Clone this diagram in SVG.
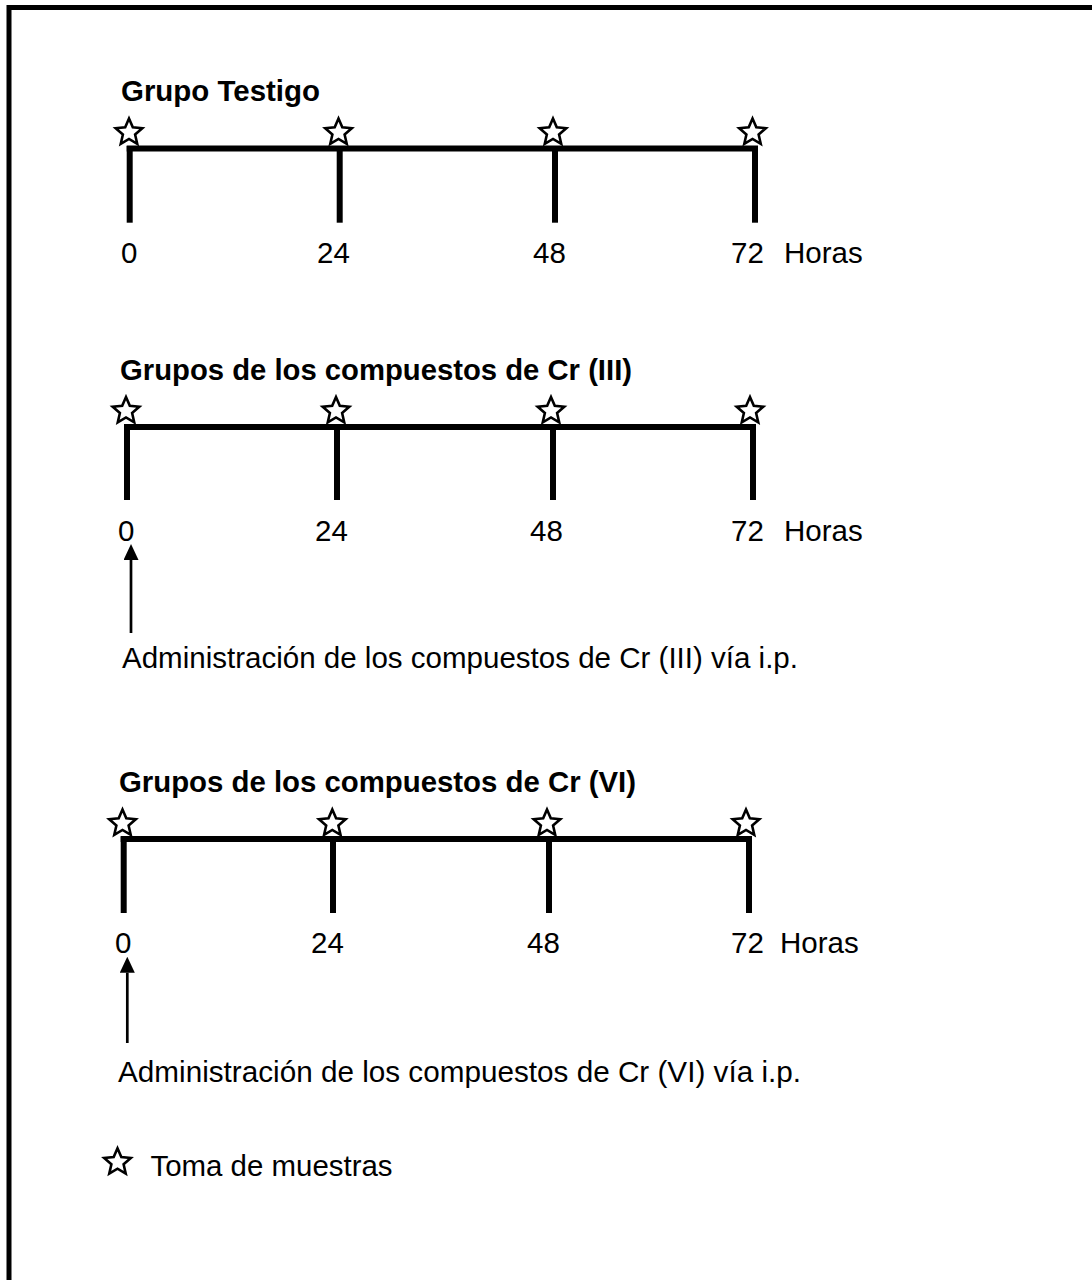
<svg xmlns="http://www.w3.org/2000/svg" width="1092" height="1280" viewBox="0 0 1092 1280">
<style>
  .t { font-family: "Liberation Sans", Arial, sans-serif; font-size: 29.5px; fill: #000; }
  .b { font-family: "Liberation Sans", Arial, sans-serif; font-size: 29.6px; font-weight: bold; fill: #000; }
  .ax { stroke: #000; stroke-width: 6; fill: none; }
  .arr { stroke: #000; stroke-width: 2.7; fill: none; }
</style>
<defs>
  <path id="star" d="M0,-14 L3.8,-5.2 L13.31,-4.33 L6.1,2.0 L8.23,11.33 L0,6.4 L-8.23,11.33 L-6.1,2.0 L-13.31,-4.33 L-3.8,-5.2 Z" fill="#fff" stroke="#000" stroke-width="2.6" stroke-linejoin="miter"/>
  <marker id="ah" markerUnits="userSpaceOnUse" markerWidth="16" markerHeight="15" refX="0" refY="7.5" orient="auto">
    <path d="M0,0 L16,7.5 L0,15 Z" fill="#000"/>
  </marker>
</defs>
<rect width="1092" height="1280" fill="#fff"/>
<rect id="frame" x="9" y="7.5" width="1200" height="1400" fill="none" stroke="#000" stroke-width="5"/>

<g id="testigo">
  <text class="b" x="121" y="101" textLength="199" lengthAdjust="spacingAndGlyphs">Grupo Testigo</text>
  <line class="ax" x1="126.7" y1="148.5" x2="758" y2="148.5"/>
  <line class="ax" x1="129.7" y1="146" x2="129.7" y2="222.7"/>
  <line class="ax" x1="339.7" y1="148.5" x2="339.7" y2="222.7"/>
  <line class="ax" x1="555" y1="148.5" x2="555" y2="222.7"/>
  <line class="ax" x1="755" y1="148.5" x2="755" y2="222.7"/>
  <use href="#star" x="129" y="132.5"/>
  <use href="#star" x="338.5" y="132.5"/>
  <use href="#star" x="553" y="132.5"/>
  <use href="#star" x="752.5" y="132.5"/>
  <text class="t" x="121" y="263">0</text>
  <text class="t" x="317" y="263">24</text>
  <text class="t" x="533" y="263">48</text>
  <text class="t" x="731" y="263">72</text>
  <text class="t" x="784" y="263">Horas</text>
</g>

<g id="cr3">
  <text class="b" x="120" y="379.5" textLength="512" lengthAdjust="spacingAndGlyphs">Grupos de los compuestos de Cr (III)</text>
  <line class="ax" x1="124" y1="427" x2="756" y2="427"/>
  <line class="ax" x1="127" y1="424.5" x2="127" y2="500"/>
  <line class="ax" x1="337" y1="427" x2="337" y2="500"/>
  <line class="ax" x1="553" y1="427" x2="553" y2="500"/>
  <line class="ax" x1="753" y1="427" x2="753" y2="500"/>
  <use href="#star" x="126" y="411"/>
  <use href="#star" x="336" y="411"/>
  <use href="#star" x="551" y="411"/>
  <use href="#star" x="750" y="411"/>
  <text class="t" x="118" y="541">0</text>
  <text class="t" x="315" y="541">24</text>
  <text class="t" x="530" y="541">48</text>
  <text class="t" x="731" y="541">72</text>
  <text class="t" x="784" y="541">Horas</text>
  <text class="t" x="122" y="668" textLength="676" lengthAdjust="spacingAndGlyphs">Administración de los compuestos de Cr (III) vía i.p.</text>
</g>

<g id="cr6">
  <text class="b" x="119" y="791.5" textLength="517" lengthAdjust="spacingAndGlyphs">Grupos de los compuestos de Cr (VI)</text>
  <line class="ax" x1="120.7" y1="839" x2="752" y2="839"/>
  <line class="ax" x1="123.7" y1="836.5" x2="123.7" y2="913"/>
  <line class="ax" x1="333" y1="839" x2="333" y2="913"/>
  <line class="ax" x1="549" y1="839" x2="549" y2="913"/>
  <line class="ax" x1="749" y1="839" x2="749" y2="913"/>
  <use href="#star" x="122.5" y="823.5"/>
  <use href="#star" x="332.3" y="823.5"/>
  <use href="#star" x="547" y="823.5"/>
  <use href="#star" x="746" y="823.5"/>
  <text class="t" x="115" y="953">0</text>
  <text class="t" x="311" y="953">24</text>
  <text class="t" x="527" y="953">48</text>
  <text class="t" x="731" y="953">72</text>
  <text class="t" x="780" y="953">Horas</text>
  <text class="t" x="118" y="1082" textLength="683" lengthAdjust="spacingAndGlyphs">Administración de los compuestos de Cr (VI) vía i.p.</text>
</g>

<g id="legend">
  <use href="#star" x="117.5" y="1162.3"/>
  <text class="t" x="150.5" y="1176" textLength="242" lengthAdjust="spacingAndGlyphs">Toma de muestras</text>
</g>

<g id="connectors">
  <line class="arr" x1="131" y1="633" x2="131" y2="560" marker-end="url(#ah)"/>
  <line class="arr" x1="127.3" y1="1043" x2="127.3" y2="972.7" marker-end="url(#ah)"/>
</g>
</svg>
